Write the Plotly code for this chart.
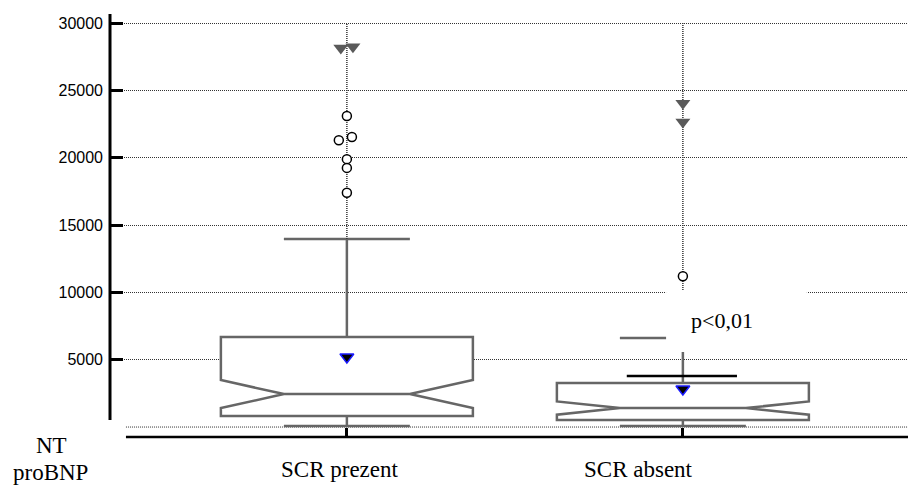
import plotly.graph_objects as go

# ---- data ----
categories = ["SCR prezent", "SCR absent"]
q1 = [820, 520]
median = [2450, 1410]
q3 = [6690, 3270]
notch_half = [1040, 490]
lower_whisker = [74, 74]
upper_whisker = [13970, 6610]
means = [5200, 2820]

outlier_group = [0, 0, 0, 0, 0, 0, 1]
outlier_values = [23100, 21300, 21550, 19900, 19250, 17400, 11200]
outlier_jitter = [0.0, -0.024, 0.015, 0.0, 0.0, 0.0, 0.0]

extreme_group = [0, 0, 1, 1]
extreme_values = [28150, 28250, 24050, 22650]
extreme_jitter = [-0.018, 0.018, 0.0, 0.0]

extra_line_value = 3790
p_text = "p<0,01"
y_ticks = [5000, 10000, 15000, 20000, 25000, 30000]
y_tick_labels = ["5000", "10000", "15000", "20000", "25000", "30000"]
y_top = 30000

positions = list(range(len(categories)))

BOX_COL = "#666666"
SERIF = "Liberation Serif, Times New Roman, serif"
SANS = "Liberation Sans, Arial, sans-serif"
DOTS = "1px,1px"

fig = go.Figure()

# dotted range lines from whisker up to the top
for i in positions:
    fig.add_trace(go.Scatter(
        x=[i, i], y=[upper_whisker[i], y_top], mode="lines",
        line=dict(color="#333333", width=1.5, dash=DOTS),
        hoverinfo="skip", showlegend=False))

fig.add_trace(go.Box(
    x=positions, q1=q1, median=median, q3=q3,
    lowerfence=lower_whisker, upperfence=upper_whisker,
    notchspan=notch_half, notched=True, notchwidth=0.25,
    boxpoints=False, width=0.75, whiskerwidth=0.5,
    line=dict(color=BOX_COL, width=2.5), fillcolor="rgba(255,255,255,1)",
    showlegend=False))

# extra black line in second group
fig.add_trace(go.Scatter(
    x=[1 - 0.167, 1 + 0.161], y=[extra_line_value, extra_line_value], mode="lines",
    line=dict(color="black", width=2.5), hoverinfo="skip", showlegend=False))

# means
fig.add_trace(go.Scatter(
    x=positions, y=means, mode="markers",
    marker=dict(symbol="triangle-down", size=12, color="black",
                line=dict(color="#1a1aff", width=1.5)),
    showlegend=False))

# outliers
fig.add_trace(go.Scatter(
    x=[g + j for g, j in zip(outlier_group, outlier_jitter)], y=outlier_values,
    mode="markers",
    marker=dict(symbol="circle", size=9, color="white",
                line=dict(color="black", width=1.5)),
    showlegend=False))

# extreme values
fig.add_trace(go.Scatter(
    x=[g + j for g, j in zip(extreme_group, extreme_jitter)], y=extreme_values,
    mode="markers",
    marker=dict(symbol="triangle-down", size=13, color="#5a5a5a",
                line=dict(color="#5a5a5a", width=0)),
    showlegend=False))

shapes = [
    # y axis line
    dict(type="line", xref="paper", yref="y", x0=0, x1=0, y0=520, y1=30680,
         line=dict(color="black", width=3)),
    # zero grid line
    dict(type="line", xref="paper", yref="y", x0=0.02, x1=1, y0=0, y1=0,
         line=dict(color="#333333", width=1, dash=DOTS), layer="below"),
    # bottom solid line
    dict(type="line", xref="paper", yref="paper", x0=0.02, x1=1, y0=0, y1=0,
         line=dict(color="black", width=2.5)),
    # white patch behind p-value text
    dict(type="rect", xref="x", yref="y", x0=0.95, x1=1.369, y0=5570, y1=10180,
         fillcolor="white", line=dict(width=0), layer="above"),
]

annotations = [
    dict(text=p_text, x=1.116, y=7950, xref="x", yref="y", showarrow=False,
         font=dict(family=SERIF, size=22, color="black")),
    dict(text=categories[0], x=-0.021, y=-0.0757, xref="x", yref="paper",
         showarrow=False, xanchor="center", yanchor="middle",
         font=dict(family=SERIF, size=23, color="black")),
    dict(text=categories[1], x=0.869, y=-0.0757, xref="x", yref="paper",
         showarrow=False, xanchor="center", yanchor="middle",
         font=dict(family=SERIF, size=23, color="black")),
    dict(text="NT", x=-0.0727, y=-0.019, xref="paper", yref="paper",
         showarrow=False, xanchor="center", yanchor="middle",
         font=dict(family=SERIF, size=23, color="black")),
    dict(text="proBNP", x=-0.075, y=-0.083, xref="paper", yref="paper",
         showarrow=False, xanchor="center", yanchor="middle",
         font=dict(family=SERIF, size=23, color="black")),
]

fig.update_layout(
    width=908, height=488,
    margin=dict(l=110, r=0, t=14, b=51),
    paper_bgcolor="white", plot_bgcolor="white",
    showlegend=False,
    shapes=shapes, annotations=annotations,
    xaxis=dict(type="linear", range=[-0.705, 1.670], showgrid=False, zeroline=False,
               showline=False, tickvals=positions, ticks="inside", ticklen=9,
               tickwidth=2.5, tickcolor="black", showticklabels=False),
    yaxis=dict(range=[-740, 30680], tickvals=y_ticks, ticktext=y_tick_labels,
               ticks="inside", ticklen=13,
               tickwidth=2.5, tickcolor="black", showgrid=True, griddash=DOTS,
               gridcolor="#333333", gridwidth=1, zeroline=False, showline=False,
               tickfont=dict(family=SANS, size=16, color="black"),
               ticklabelstandoff=6),
)

fig.write_html("out.html")
